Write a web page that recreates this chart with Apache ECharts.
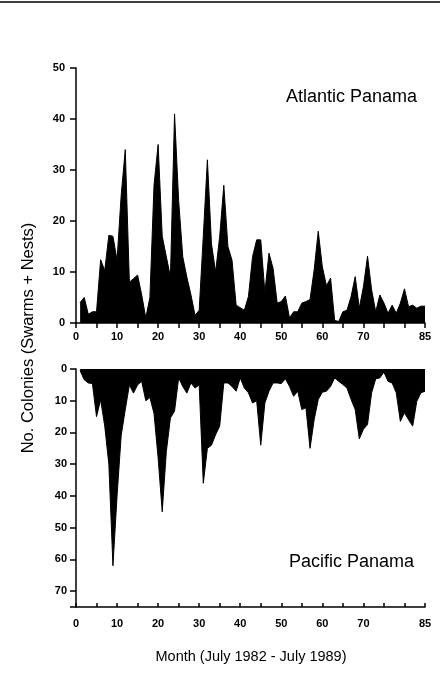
<!DOCTYPE html>
<html>
<head>
<meta charset="utf-8">
<script src="https://cdn.jsdelivr.net/npm/echarts@6/dist/echarts.min.js"></script>
<style>
html,body{margin:0;padding:0;background:#fff;}
#chart{width:440px;height:690px;}
</style>
</head>
<body>
<div id="chart"></div>
<script>
// Months 1..85 (July 1982 - July 1989)
const atlanticColonies = [4, 5, 1.7, 2.2, 2.2, 12.4, 10.3, 17.2, 17, 12.3,
  25, 34, 8, 8.7, 9.4, 5.5, 1, 5, 27, 35,
  17, 13, 9, 41, 24, 13, 9, 5.5, 1.5, 2.5,
  17, 32, 15.5, 10, 17, 27, 15, 12.3, 3.5, 3,
  2.5, 5.2, 13, 16.3, 16.3, 6, 13.7, 10.7, 3.9, 4.2,
  5.3, 1, 2.2, 2.2, 3.9, 4.2, 4.6, 10.4, 18, 11,
  7.3, 8.8, 0.5, 0.3, 2.2, 2.5, 5.2, 9.1, 2.9, 7.1,
  13.1, 6.5, 2.2, 5.5, 3.9, 1.9, 3.5, 1.9, 3.9, 6.7,
  3.2, 3.5, 2.9, 3.3, 3.3];
const pacificColonies = [0.5, 3.4, 4.4, 4.6, 15, 9.7, 18, 30, 62, 40,
  21, 12.8, 5, 7.6, 5, 3.9, 10, 9, 14, 28,
  45, 26, 15.4, 13.3, 2.8, 5.5, 7.6, 4.4, 6, 5,
  36, 25, 24, 20.7, 18, 4.4, 4.4, 5.5, 7, 2.8,
  6, 7.5, 10.7, 10, 24, 10.7, 7, 4.4, 4.4, 4.6,
  3.1, 5.5, 8.6, 7, 12.8, 12.2, 25, 16, 9.6, 7.3,
  7, 5.5, 2.8, 3.9, 4.9, 6, 9.6, 12.8, 22, 19,
  17.5, 7.5, 3.1, 2.8, 1, 3.9, 4.4, 7.5, 16.5, 13.8,
  16, 18, 10.2, 7.5, 7];
const monthTickLabels = [0, 10, 20, 30, 40, 50, 60, 70, 85];
const atlanticYTicks = [0, 10, 20, 30, 40, 50];
const pacificYTicks = [0, 10, 20, 30, 40, 50, 60, 70];
const atlanticLabel = 'Atlantic Panama';
const pacificLabel = 'Pacific Panama';
const yTitle = 'No. Colonies (Swarms + Nests)';
const xTitle = 'Month (July 1982 - July 1989)';

const toPairs = arr => arr.map((v, i) => [i + 1, v]);

const FONT = '"Liberation Sans", Arial, Helvetica, sans-serif';
const tickLabelStyle = {color: '#000', fontFamily: FONT, fontWeight: 'bold', fontSize: 11};

const chart = echarts.init(document.getElementById('chart'), null, {renderer: 'canvas'});
chart.setOption({
  backgroundColor: '#fff',
  animation: false,
  grid: [
    {left: 76, right: 15, top: 68, height: 255},
    {left: 76, right: 15, top: 369, height: 238}
  ],
  xAxis: [
    {
      gridIndex: 0, type: 'value', min: 0, max: 85, interval: 5,
      axisLine: {show: true, onZero: false, lineStyle: {color: '#000', width: 1.5}},
      axisTick: {show: true, inside: false, length: 5, lineStyle: {color: '#000', width: 1.5}},
      axisLabel: Object.assign({margin: 8, formatter: v => monthTickLabels.includes(v) ? String(v) : ''}, tickLabelStyle),
      splitLine: {show: false}
    },
    {
      gridIndex: 1, type: 'value', min: 0, max: 85, interval: 5,
      axisLine: {show: true, onZero: false, lineStyle: {color: '#000', width: 1.5}},
      axisTick: {show: true, inside: true, length: 4, lineStyle: {color: '#000', width: 1.5}},
      axisLabel: Object.assign({margin: 11, formatter: v => monthTickLabels.includes(v) ? String(v) : ''}, tickLabelStyle),
      splitLine: {show: false}
    }
  ],
  yAxis: [
    {
      gridIndex: 0, type: 'value', min: 0, max: 50, interval: 10,
      axisLine: {show: true, lineStyle: {color: '#000', width: 1.5}},
      axisTick: {show: true, inside: false, length: 6, lineStyle: {color: '#000', width: 1.5}},
      axisLabel: Object.assign({margin: 11, formatter: v => atlanticYTicks.includes(v) ? String(v) : ''}, tickLabelStyle),
      splitLine: {show: false}
    },
    {
      gridIndex: 1, type: 'value', min: 0, max: 75, interval: 10, inverse: true,
      axisLine: {show: true, lineStyle: {color: '#000', width: 1.5}},
      axisTick: {show: true, inside: false, length: 6, lineStyle: {color: '#000', width: 1.5}},
      axisLabel: Object.assign({margin: 9, formatter: v => pacificYTicks.includes(v) ? String(v) : ''}, tickLabelStyle),
      splitLine: {show: false}
    }
  ],
  series: [
    {
      type: 'line', xAxisIndex: 0, yAxisIndex: 0, data: toPairs(atlanticColonies),
      symbol: 'none', lineStyle: {color: '#000', width: 1},
      areaStyle: {color: '#000', opacity: 1}
    },
    {
      type: 'line', xAxisIndex: 1, yAxisIndex: 1, data: toPairs(pacificColonies),
      symbol: 'none', lineStyle: {color: '#000', width: 1},
      areaStyle: {color: '#000', opacity: 1}
    }
  ],
  graphic: [
    {type: 'line', shape: {x1: 0, y1: 2, x2: 440, y2: 2}, style: {stroke: '#000', lineWidth: 1.5}},
    {type: 'text', left: 286, top: 88, style: {text: atlanticLabel, fill: '#000', font: '18px ' + FONT}},
    {type: 'text', left: 289, top: 553, style: {text: pacificLabel, fill: '#000', font: '18px ' + FONT}},
    {type: 'text', x: 251, y: 657, style: {text: xTitle, fill: '#000', font: '14.5px ' + FONT, textAlign: 'center', textVerticalAlign: 'middle'}},
    {type: 'text', x: 28, y: 338, rotation: Math.PI / 2, style: {text: yTitle, fill: '#000', font: '16.5px ' + FONT, textAlign: 'center', textVerticalAlign: 'middle'}}
  ]
});
</script>
</body>
</html>
